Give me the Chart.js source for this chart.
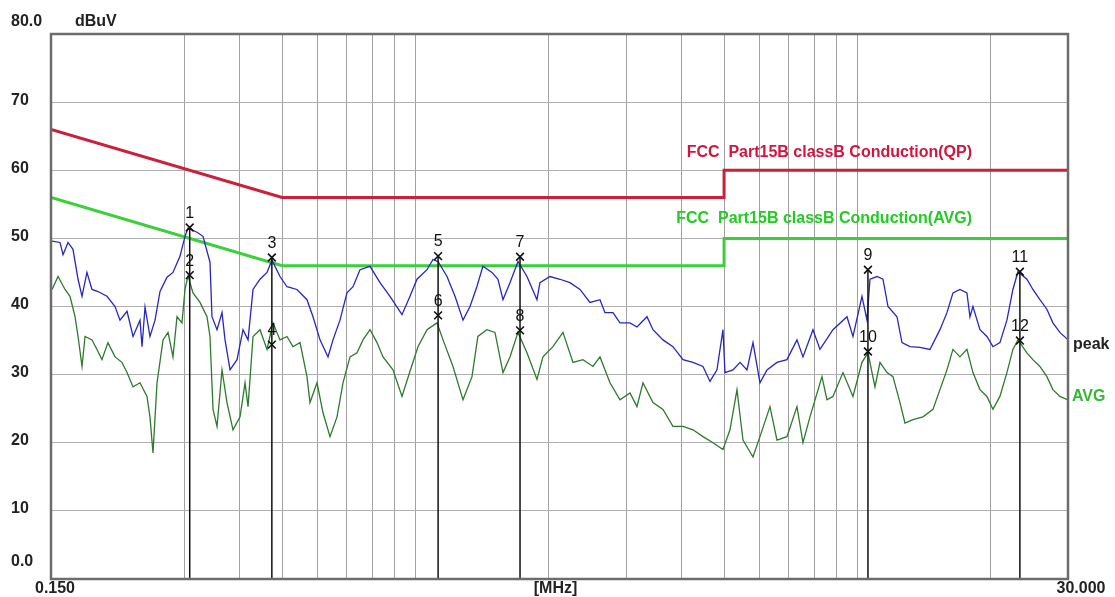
<!DOCTYPE html>
<html>
<head>
<meta charset="utf-8">
<script src="https://cdn.jsdelivr.net/npm/chart.js@4.4.1/dist/chart.umd.min.js"></script>
<style>
  html, body { margin: 0; padding: 0; background: #fff; }
  canvas { display: block; }
</style>
</head>
<body>
<canvas id="emi" width="1115" height="597"></canvas>
<script>
// Conducted emission scan, frequency in MHz, level in dBuV

const peakFreq = [
  0.1508, 0.1572, 0.1597, 0.1639, 0.1682, 0.1727, 0.1763, 0.1809, 0.1857, 0.1916,
  0.2008, 0.2094, 0.2149, 0.2229, 0.2300, 0.2385, 0.2410, 0.2448, 0.2512, 0.2579,
  0.2647, 0.2745, 0.2832, 0.2938, 0.3015, 0.3063, 0.3210, 0.3311, 0.3434, 0.3470,
  0.3562, 0.3656, 0.3714, 0.3812, 0.3953, 0.4079, 0.4187, 0.4297, 0.4457, 0.4622,
  0.4743, 0.4945, 0.5129, 0.5403, 0.5692, 0.5873, 0.6092, 0.6351, 0.6518, 0.6760,
  0.7011, 0.7234, 0.7503, 0.7905, 0.8327, 0.8772, 0.9338, 0.9735, 1.0097, 1.0637,
  1.0975, 1.1265, 1.1805, 1.2308, 1.2832, 1.3308, 1.3793, 1.4231, 1.4922, 1.5396,
  1.5803, 1.6389, 1.7087, 1.7906, 1.8863, 1.9160, 2.0184, 2.1264, 2.2403, 2.3601,
  2.4864, 2.6193, 2.6883, 2.8029, 2.9070, 3.0626, 3.1761, 3.3459, 3.4521, 3.6368,
  3.8312, 4.0361, 4.2521, 4.4798, 4.6457, 4.8183, 4.9713, 5.0235, 5.2374, 5.4320,
  5.6336, 5.8127, 6.0282, 6.2520, 6.5862, 6.9383, 7.3095, 7.5417, 7.9452, 8.2401,
  8.8170, 9.4848, 9.7862, 10.256, 10.527, 10.693, 11.090, 11.442, 11.745, 12.308,
  12.632, 13.170, 13.874, 14.616, 15.396, 15.968, 16.475, 17.086, 17.720, 18.000,
  18.284, 18.962, 19.665, 20.290, 21.043, 21.823, 22.515, 23.110, 24.218, 24.987,
  25.914, 26.876, 27.729, 28.758, 30.000
];
const peakLevel = [
  49.6, 49.4, 47.6, 49.4, 48.4, 44.0, 41.5, 45.0, 42.5, 42.2,
  41.5, 40.0, 38.0, 39.3, 35.6, 38.0, 34.1, 39.9, 35.6, 38.0,
  42.2, 44.3, 45.0, 47.4, 50.3, 51.5, 50.9, 50.3, 46.5, 38.5,
  36.6, 39.1, 35.1, 30.7, 32.2, 36.6, 35.1, 42.5, 44.0, 45.0,
  46.8, 44.4, 42.9, 42.5, 41.0, 38.5, 35.1, 32.6, 35.1, 38.0,
  42.0, 42.9, 45.4, 45.9, 43.5, 41.5, 38.8, 41.5, 44.0, 45.4,
  46.9, 46.6, 44.4, 41.5, 38.0, 40.0, 42.9, 45.9, 45.0, 44.0,
  41.0, 43.5, 46.6, 44.4, 41.0, 43.5, 44.4, 44.0, 43.5, 42.5,
  40.6, 41.0, 39.1, 39.1, 37.6, 37.6, 37.0, 38.5, 36.6, 35.1,
  34.1, 32.2, 31.8, 31.2, 29.0, 30.7, 36.6, 30.3, 30.7, 31.8,
  30.7, 34.7, 28.8, 30.7, 31.8, 32.2, 35.1, 32.6, 36.6, 33.7,
  36.6, 38.5, 35.6, 41.5, 38.0, 44.0, 44.4, 44.0, 40.0, 38.5,
  34.7, 34.1, 34.0, 33.7, 36.6, 39.1, 42.0, 42.5, 42.0, 38.5,
  40.0, 36.6, 35.6, 34.1, 34.7, 38.0, 42.5, 45.1, 44.0, 42.5,
  41.0, 39.6, 37.6, 36.2, 35.1
];

const avgFreq = [
  0.1508, 0.1556, 0.1614, 0.1656, 0.1700, 0.1727, 0.1763, 0.1791, 0.1857, 0.1906,
  0.1956, 0.2018, 0.2094, 0.2171, 0.2229, 0.2300, 0.2385, 0.2473, 0.2512, 0.2552,
  0.2606, 0.2689, 0.2760, 0.2832, 0.2892, 0.2968, 0.3015, 0.3063, 0.3143, 0.3260,
  0.3381, 0.3434, 0.3489, 0.3562, 0.3656, 0.3752, 0.3872, 0.4016, 0.4122, 0.4187,
  0.4297, 0.4457, 0.4622, 0.4768, 0.4945, 0.5129, 0.5292, 0.5489, 0.5692, 0.5782,
  0.5997, 0.6188, 0.6417, 0.6656, 0.6867, 0.7122, 0.7386, 0.7621, 0.7905, 0.8198,
  0.8458, 0.8910, 0.9338, 0.9735, 1.0150, 1.0637, 1.1206, 1.1562, 1.2180, 1.2832,
  1.3447, 1.3865, 1.4531, 1.5158, 1.5803, 1.6389, 1.7087, 1.7906, 1.8863, 1.9462,
  2.0502, 2.1600, 2.2757, 2.3973, 2.5256, 2.6193, 2.7594, 2.9070, 3.0626, 3.1761,
  3.2769, 3.4521, 3.6368, 3.8312, 4.0361, 4.2521, 4.4798, 4.7189, 4.9713, 5.1561,
  5.3477, 5.5175, 5.8127, 6.0282, 6.3506, 6.5862, 6.9383, 7.3095, 7.5417, 7.8220,
  8.3264, 8.5461, 8.8170, 9.2891, 9.7862, 10.256, 10.582, 10.975, 11.265, 11.683,
  12.054, 12.501, 12.831, 13.378, 14.093, 14.845, 15.396, 15.968, 16.475, 17.086,
  17.720, 18.284, 18.962, 19.665, 20.290, 21.043, 21.823, 22.515, 23.110, 24.218,
  24.987, 25.914, 26.876, 27.729, 28.758, 30.000
];
const avgLevel = [
  42.5, 44.4, 42.5, 41.5, 38.5, 35.6, 31.2, 35.6, 35.1, 33.7,
  32.2, 34.7, 32.6, 31.8, 30.3, 28.2, 28.8, 26.8, 23.8, 18.5,
  28.8, 35.1, 36.2, 32.6, 38.5, 37.6, 42.5, 44.5, 42.0, 40.6,
  38.5, 35.6, 24.9, 22.4, 30.7, 25.9, 21.9, 23.8, 28.8, 25.3,
  35.6, 36.6, 33.7, 37.6, 35.1, 35.6, 34.1, 34.7, 29.7, 25.9,
  28.8, 24.4, 20.9, 23.8, 28.8, 32.6, 33.2, 35.1, 36.6, 34.7,
  32.6, 30.7, 26.8, 30.5, 34.1, 36.6, 37.6, 35.1, 31.2, 26.3,
  29.7, 35.6, 36.6, 36.2, 30.3, 32.6, 36.2, 33.2, 29.3, 32.6,
  34.1, 36.2, 31.8, 32.2, 31.2, 32.6, 28.8, 26.3, 27.3, 25.3,
  28.8, 25.9, 24.9, 22.4, 22.4, 21.9, 20.9, 20.0, 19.0, 21.9,
  27.8, 20.4, 17.9, 20.9, 25.3, 20.4, 20.9, 25.3, 20.0, 23.8,
  29.7, 26.3, 26.8, 30.3, 26.8, 31.8, 33.2, 28.2, 31.8, 30.3,
  29.7, 25.9, 22.9, 23.4, 23.8, 24.9, 27.8, 30.7, 33.7, 32.6,
  33.7, 30.3, 27.8, 26.8, 24.9, 26.8, 30.3, 33.7, 35.1, 33.2,
  32.2, 31.2, 29.7, 27.8, 26.8, 26.3
];

// FCC Part 15B class B limits
const qpLimitFreq = [0.15, 0.5, 5, 5, 30];
const qpLimitLevel = [66, 56, 56, 60, 60];
const avgLimitFreq = [0.15, 0.5, 5, 5, 30];
const avgLimitLevel = [56, 46, 46, 50, 50];

const markerNo = ['1', '2', '3', '4', '5', '6', '7', '8', '9', '10', '11', '12'];
const markerFreq = [0.309, 0.309, 0.474, 0.474, 1.127, 1.127, 1.727, 1.727, 10.58, 10.58, 23.35, 23.35];
const markerLevel = [51.6, 44.6, 47.2, 34.4, 47.4, 38.7, 47.3, 36.5, 45.4, 33.4, 45.1, 35.0];

const yTicks = [0, 10, 20, 30, 40, 50, 60, 70, 80];
const yTickLabels = ['0.0', '10', '20', '30', '40', '50', '60', '70', '80.0'];
const freqGrid = [0.3, 0.4, 0.5, 0.6, 0.7, 0.8, 0.9, 1, 2, 3, 4, 5, 6, 7, 8, 9, 10, 20];

const FONT = '"Liberation Sans", Arial, sans-serif';

const pts = (xs, ys) => xs.map((x, i) => ({ x, y: ys[i] }));

// vertical marker lines: from the upper marker of each pair down to 0
const markerLines = [];
for (let i = 0; i < markerFreq.length; i += 2) {
  markerLines.push({ x: markerFreq[i], y: markerLevel[i] });
  markerLines.push({ x: markerFreq[i], y: 0 });
  markerLines.push({ x: markerFreq[i], y: null });
}

const textPlugin = {
  id: 'emiText',
  afterDatasetsDraw(chart) {
    const { ctx, chartArea: a, scales: { x, y } } = chart;
    ctx.save();

    // frame
    ctx.strokeStyle = '#6c6c6c';
    ctx.lineWidth = 2.5;
    ctx.strokeRect(a.left, a.top, a.right - a.left, a.bottom - a.top);

    ctx.fillStyle = '#222';
    ctx.font = 'bold 16px ' + FONT;
    ctx.textBaseline = 'middle';

    // y labels
    ctx.textAlign = 'left';
    yTicks.forEach((v, i) => {
      let py = y.getPixelForValue(v) - 2;
      if (v === 80) py -= 10;
      if (v === 0) py -= 15;
      ctx.fillText(yTickLabels[i], 11, py);
    });
    ctx.fillText('dBuV', 75, y.getPixelForValue(80) - 12);

    // x labels
    ctx.textAlign = 'center';
    ctx.fillText('0.150', x.getPixelForValue(0.15) + 4, a.bottom + 10);
    ctx.fillText('30.000', x.getPixelForValue(30) + 13, a.bottom + 10);
    ctx.fillText('[MHz]', (a.left + a.right) / 2 - 4, a.bottom + 10);

    // limit captions
    ctx.textAlign = 'right';
    ctx.fillStyle = '#d4143c';
    ctx.fillText('FCC  Part15B classB Conduction(QP)', a.right - 96, y.getPixelForValue(60) - 18);
    ctx.fillStyle = '#22cc22';
    ctx.fillText('FCC  Part15B classB Conduction(AVG)', a.right - 96, y.getPixelForValue(50) - 20);

    // trace names
    ctx.textAlign = 'left';
    ctx.fillStyle = '#222';
    ctx.fillText('peak', a.right + 5, 345);
    ctx.fillStyle = '#33b833';
    ctx.fillText('AVG', a.right + 4, 397);

    // marker numbers
    ctx.fillStyle = '#111';
    ctx.font = '16px ' + FONT;
    ctx.textAlign = 'center';
    markerNo.forEach((n, i) => {
      ctx.fillText(n, x.getPixelForValue(markerFreq[i]), y.getPixelForValue(markerLevel[i]) - 14);
    });

    ctx.restore();
  }
};

new Chart(document.getElementById('emi'), {
  type: 'line',
  data: {
    datasets: [
      {
        label: 'markers',
        data: pts(markerFreq, markerLevel),
        showLine: false,
        pointStyle: 'crossRot',
        pointRadius: 5.5,
        pointBorderWidth: 1.6,
        pointBorderColor: '#111',
        pointBackgroundColor: '#111',
      },
      {
        label: 'marker lines',
        data: markerLines,
        borderColor: '#111',
        borderWidth: 1.5,
        pointRadius: 0,
        spanGaps: false,
      },
      {
        label: 'peak',
        data: pts(peakFreq, peakLevel),
        borderColor: '#2626c4',
        borderWidth: 1.3,
        pointRadius: 0,
        tension: 0,
      },
      {
        label: 'AVG',
        data: pts(avgFreq, avgLevel),
        borderColor: '#2d7a2d',
        borderWidth: 1.3,
        pointRadius: 0,
        tension: 0,
      },
      {
        label: 'QP limit',
        data: pts(qpLimitFreq, qpLimitLevel),
        borderColor: '#cc1f3a',
        borderWidth: 3,
        pointRadius: 0,
      },
      {
        label: 'AVG limit',
        data: pts(avgLimitFreq, avgLimitLevel),
        borderColor: '#3ad03a',
        borderWidth: 3,
        pointRadius: 0,
      },
    ],
  },
  options: {
    responsive: false,
    animation: false,
    devicePixelRatio: 1,
    layout: { padding: { left: 51, right: 47, top: 34, bottom: 18 } },
    plugins: {
      legend: { display: false },
      tooltip: { enabled: false },
    },
    scales: {
      x: {
        type: 'logarithmic',
        min: 0.15,
        max: 30,
        afterBuildTicks: s => { s.ticks = freqGrid.map(v => ({ value: v })); },
        ticks: { display: false },
        grid: { color: '#a0a0a0', lineWidth: 1, drawTicks: false },
        border: { display: false },
      },
      y: {
        min: 0,
        max: 80,
        ticks: { display: false, stepSize: 10 },
        grid: { color: '#b0b0b0', lineWidth: 1, drawTicks: false },
        border: { display: false },
      },
    },
  },
  plugins: [textPlugin],
});
</script>
</body>
</html>
